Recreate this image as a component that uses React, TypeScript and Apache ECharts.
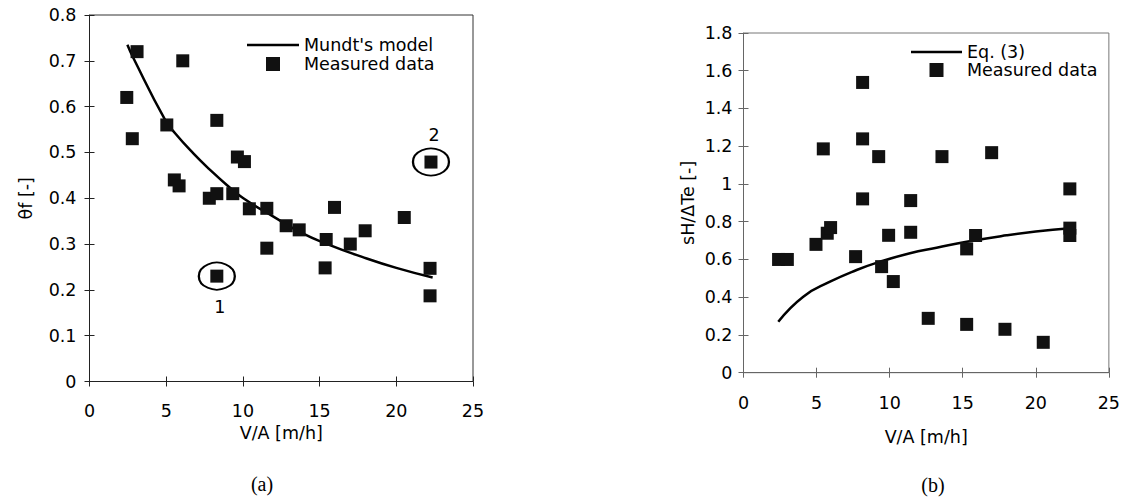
import React, { useEffect, useRef } from "react";
import * as echarts from "echarts";

// ---- Data (a) ----
const measuredA: number[][] = [
  [2.43, 0.62], [2.79, 0.53], [3.1, 0.72], [5.04, 0.56], [5.53, 0.44], [5.84, 0.427],
  [6.08, 0.7], [7.81, 0.4], [8.3, 0.41], [8.3, 0.57], [8.3, 0.23], [9.34, 0.41],
  [9.64, 0.49], [10.1, 0.48], [10.42, 0.377], [11.56, 0.378], [11.56, 0.291],
  [12.82, 0.34], [13.67, 0.331], [15.43, 0.31], [15.36, 0.248], [15.97, 0.38],
  [17.0, 0.3], [17.97, 0.329], [20.52, 0.358], [22.26, 0.479], [22.2, 0.247], [22.2, 0.187],
];
const mundtModel: number[][] = [
  [2.47, 0.735], [2.86, 0.706], [4.93, 0.571], [5.58, 0.542], [6.77, 0.498], [7.86, 0.462],
  [8.95, 0.429], [10.03, 0.4], [11.99, 0.36], [13.8, 0.325], [15.5, 0.3], [17.77, 0.272],
  [20.0, 0.248], [22.37, 0.227],
];
const circledA = [
  { label: "1", value: [8.3, 0.23], pos: "bottom" },
  { label: "2", value: [22.26, 0.479], pos: "top" },
];

// ---- Data (b) ----
const measuredB: number[][] = [
  [2.4, 0.6], [3.0, 0.6], [4.96, 0.68], [5.46, 1.186], [5.73, 0.739], [5.96, 0.769],
  [7.67, 0.615], [8.15, 1.538], [8.15, 1.239], [8.15, 0.921], [9.25, 1.145], [9.45, 0.562],
  [9.93, 0.728], [10.25, 0.483], [11.44, 0.912], [11.44, 0.744], [12.64, 0.288],
  [13.58, 1.145], [15.27, 0.656], [15.27, 0.256], [15.88, 0.727], [16.98, 1.166],
  [17.89, 0.23], [20.51, 0.161], [22.33, 0.974], [22.33, 0.766], [22.33, 0.727],
];
const eq3: number[][] = [
  [2.38, 0.27], [4.09, 0.403], [5.92, 0.482], [7.74, 0.544], [9.34, 0.588], [11.39, 0.633],
  [13.21, 0.662], [15.27, 0.694], [18.0, 0.728], [20.0, 0.748], [22.33, 0.765],
];

const xTicks = [0, 25, 5];
const yTicksA = [0, 0.8, 0.1];
const yTicksB = [0, 1.8, 0.2];

const FONT = "DejaVu Sans";
const INK = "#000";

export default function App() {
  const ref = useRef<HTMLDivElement>(null);
  useEffect(() => {
    document.body.style.margin = "0";
    const chart = echarts.init(ref.current!, null, { renderer: "svg" });
    const lbl = { fontSize: 17.5, fontFamily: FONT, color: INK };
    const mkX = (gi: number, lineColor: string, margin: number, nameGap: number) => [
      {
        type: "value", gridIndex: gi, min: xTicks[0], max: xTicks[1], interval: xTicks[2],
        position: "bottom",
        axisLine: { show: true, lineStyle: { color: lineColor, width: 1 } },
        axisTick: { show: true, length: 5, lineStyle: { color: lineColor } },
        axisLabel: { ...lbl, margin },
        splitLine: { show: false },
        name: "V/A [m/h]", nameLocation: "middle", nameGap,
        nameTextStyle: { ...lbl },
      },
      {
        type: "value", gridIndex: gi, min: xTicks[0], max: xTicks[1], interval: xTicks[2],
        position: "bottom",
        axisLine: { show: false },
        axisTick: { show: true, inside: true, length: 5, lineStyle: { color: lineColor } },
        axisLabel: { show: false },
        splitLine: { show: false },
      },
    ];
    const mkY = (gi: number, t: number[], lineColor: string, name: string, nameGap: number, margin: number, fmt?: (v: number) => string) => [
      {
        type: "value", gridIndex: gi, min: t[0], max: t[1], interval: t[2],
        position: "left",
        axisLine: { show: true, lineStyle: { color: lineColor, width: 1 } },
        axisTick: { show: true, length: 5, lineStyle: { color: lineColor } },
        axisLabel: { ...lbl, margin, formatter: fmt },
        splitLine: { show: false },
        name, nameLocation: "middle", nameGap,
        nameTextStyle: { ...lbl },
      },
      {
        type: "value", gridIndex: gi, min: t[0], max: t[1], interval: t[2],
        position: "left",
        axisLine: { show: false },
        axisTick: { show: true, inside: true, length: 5, lineStyle: { color: lineColor } },
        axisLabel: { show: false },
        splitLine: { show: false },
      },
    ];
    const fmtA = (v: number) => (v === 0 ? "0" : v.toFixed(1));
    const fmtB = (v: number) => (v === 0 ? "0" : (Math.round(v * 10) / 10).toString());

    const lineIcon = "path://M0,0L52,0L52,2.5L0,2.5Z";
    const squareIcon = "path://M0,0L13,0L13,13L0,13Z";

    chart.setOption({
      animation: false,
      textStyle: { fontFamily: FONT },
      grid: [
        { left: 89.5, right: 650, top: 15, bottom: 117.5, show: true, borderColor: "#333", borderWidth: 1 },
        { left: 743.5, right: 14, top: 33, bottom: 126.3, show: true, borderColor: "#777", borderWidth: 1 },
      ],
      xAxis: [...mkX(0, "#222", 20, 33), ...mkX(1, "#666", 21, 55)],
      yAxis: [
        ...mkY(0, yTicksA, "#222", "θf [-]", 55, 13, fmtA),
        ...mkY(1, yTicksB, "#666", "sH/ΔTe [-]", 47, 11, fmtB),
      ],
      legend: [
        {
          data: [
            { name: "Mundt's model", icon: lineIcon },
            { name: "Measured data", icon: squareIcon },
          ],
          orient: "vertical", left: 247, top: 36, padding: 0,
          itemWidth: 52, itemHeight: 14, itemGap: 1, selectedMode: false, symbolKeepAspect: true,
          textStyle: { ...lbl },
        },
        {
          data: [
            { name: "Eq. (3)", icon: lineIcon },
            { name: "Measured data", icon: squareIcon },
          ],
          orient: "vertical", left: 911, top: 43, padding: 0,
          itemWidth: 51, itemHeight: 14, itemGap: 0, selectedMode: false, symbolKeepAspect: true,
          textStyle: { ...lbl },
        },
      ],
      series: [
        {
          name: "Mundt's model", type: "line", xAxisIndex: 0, yAxisIndex: 0, data: mundtModel,
          smooth: true, symbol: "none", lineStyle: { color: INK, width: 2.5 }, itemStyle: { color: INK },
          z: 3,
        },
        {
          name: "Measured data", type: "scatter", xAxisIndex: 0, yAxisIndex: 0, data: measuredA,
          symbol: "rect", symbolSize: 13, itemStyle: { color: "#111", opacity: 1 }, z: 4,
        },
        {
          type: "scatter", xAxisIndex: 0, yAxisIndex: 0,
          data: circledA.map((c) => ({
            value: c.value, name: c.label,
            label: { show: true, position: c.pos, distance: c.pos === "bottom" ? 8 : 4, offset: [3, 0], formatter: c.label, ...lbl },
          })),
          symbol: "circle", symbolSize: [36, 27],
          itemStyle: { color: "rgba(0,0,0,0)", borderColor: INK, borderWidth: 2, opacity: 1 }, z: 5,
          silent: true,
        },
        {
          name: "Eq. (3)", type: "line", xAxisIndex: 2, yAxisIndex: 2, data: eq3,
          smooth: true, symbol: "none", lineStyle: { color: INK, width: 2.5 }, itemStyle: { color: INK },
          z: 3,
        },
        {
          name: "Measured data", type: "scatter", xAxisIndex: 2, yAxisIndex: 2, data: measuredB,
          symbol: "rect", symbolSize: 13, itemStyle: { color: "#111", opacity: 1 }, z: 4,
        },
      ],
      graphic: [
        { type: "text", x: 262, y: 484, style: { text: "(a)", fontFamily: "Liberation Serif", fontSize: 20, fill: INK, textAlign: "center", textVerticalAlign: "middle" } },
        { type: "text", x: 933, y: 485, style: { text: "(b)", fontFamily: "Liberation Serif", fontSize: 20, fill: INK, textAlign: "center", textVerticalAlign: "middle" } },
      ],
    });
    return () => chart.dispose();
  }, []);
  return <div ref={ref} style={{ width: 1123, height: 499, background: "#fff" }} />;
}
